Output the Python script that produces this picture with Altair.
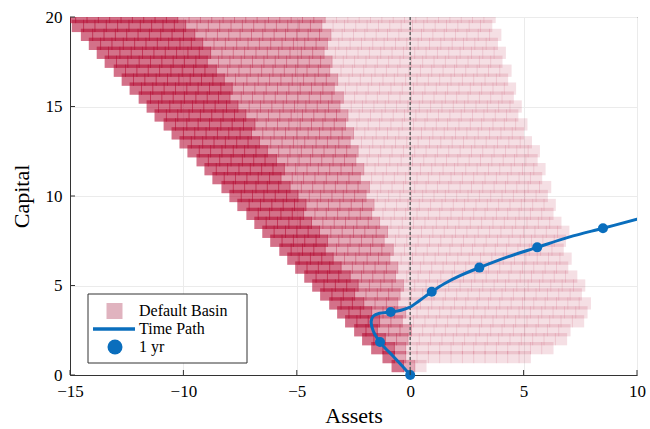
import altair as alt
import pandas as pd

# ---- Default basin grid (row capital levels, left edge and right edges per layer) ----
rows_capital = [0.5, 1.0, 1.5, 2.0, 2.5, 3.0, 3.5, 4.0, 4.5, 5.0,
                5.5, 6.0, 6.5, 7.0, 7.5, 8.0, 8.5, 9.0, 9.5, 10.0,
                10.5, 11.0, 11.5, 12.0, 12.5, 13.0, 13.5, 14.0, 14.5, 15.0,
                15.5, 16.0, 16.5, 17.0, 17.5, 18.0, 18.5, 19.0, 19.5, 20.0]
left_assets = [-0.55, -0.95, -1.45, -1.85, -2.2, -2.6, -2.95, -3.3, -3.7, -4.05,
               -4.4, -4.8, -5.15, -5.5, -5.9, -6.25, -6.6, -6.95, -7.35, -7.7,
               -8.05, -8.45, -8.8, -9.15, -9.55, -9.9, -10.25, -10.6, -11.0, -11.35,
               -11.7, -12.1, -12.45, -12.8, -13.2, -13.55, -13.9, -14.25, -14.65, -15.0]
dark_right = [-0.3, -0.55, -0.8, -1.05, -1.3, -1.55, -1.8, -2.05, -2.3, -2.55,
              -2.8, -3.05, -3.3, -3.55, -3.8, -4.05, -4.3, -4.55, -4.8, -5.05,
              -5.3, -5.55, -5.8, -6.05, -6.3, -6.55, -6.8, -7.05, -7.3, -7.55,
              -7.8, -8.05, -8.3, -8.55, -8.8, -9.05, -9.3, -9.55, -9.8, -10.05]
mid_right = [0.1, 0.0, -0.05, -0.1, -0.15, -0.25, -0.3, -0.35, -0.4, -0.5,
             -0.6, -0.75, -0.9, -1.0, -1.1, -1.25, -1.4, -1.5, -1.65, -1.8,
             -1.95, -2.1, -2.2, -2.35, -2.45, -2.6, -2.7, -2.85, -2.95, -3.1,
             -3.15, -3.25, -3.35, -3.4, -3.5, -3.6, -3.65, -3.75, -3.8, -3.9]
outer_right = [0.65, 5.2, 6.1, 6.8, 7.2, 7.45, 7.6, 7.7, 7.7, 7.5,
               7.3, 7.15, 7.05, 6.95, 6.85, 6.75, 6.6, 6.5, 6.4, 6.25,
               6.1, 5.95, 5.8, 5.6, 5.45, 5.3, 5.15, 5.0, 4.85, 4.7,
               4.6, 4.45, 4.35, 4.25, 4.15, 4.0, 3.9, 3.75, 3.6, 3.5]
grid_step = 0.5

# ---- Time path ----
path_assets = [0.0, -0.35, -0.75, -1.1, -1.33, -1.55, -1.68, -1.72, -1.62, -1.35,
               -0.86, -0.4, 0.0, 0.4, 0.95, 1.5, 2.2, 3.05, 4.3, 5.6,
               7.0, 8.5, 10.0, 10.6]
path_capital = [0.0, 0.5, 1.05, 1.5, 1.84, 2.25, 2.65, 3.0, 3.3, 3.45,
                3.52, 3.62, 3.8, 4.15, 4.65, 5.1, 5.55, 6.0, 6.6, 7.13,
                7.7, 8.2, 8.7, 8.9]
year_assets = [0.0, -1.33, -0.86, 0.95, 3.05, 5.6, 8.5]
year_capital = [0.0, 1.84, 3.52, 4.65, 6.0, 7.13, 8.2]

x_ticks = [-15, -10, -5, 0, 5, 10]
y_ticks = [0, 5, 10, 15, 20]
legend_labels = ["Default Basin", "Time Path", "1 yr"]

BASIN = "#b40a32"
BLUE = "#0a6ebd"
FONT = "Liberation Serif"

recs = []
for yv, lx, r1, r2, r4 in zip(rows_capital, left_assets, dark_right, mid_right, outer_right):
    k = 0
    while True:
        xv = round(lx + grid_step * k, 4)
        if xv > r4 + 1e-6:
            break
        depth = 1 + (xv <= r2 + 1e-6) + (xv <= r1 + 1e-6)
        recs.append({"assets": xv, "capital": yv, "depth": int(depth)})
        k += 1
basin = pd.DataFrame(recs)
path = pd.DataFrame({"assets": path_assets, "capital": path_capital,
                     "order": list(range(len(path_assets)))})
years = pd.DataFrame({"assets": year_assets, "capital": year_capital})

xs = alt.Scale(domain=[-15, 10], nice=False, zero=False)
ys = alt.Scale(domain=[0, 20], nice=False, zero=False)

xax = alt.Axis(values=x_ticks, title="Assets", grid=True, tickSize=0,
               labelFlush=False, labelPadding=8, titlePadding=6)
yax = alt.Axis(values=y_ticks, title="Capital", grid=True, tickSize=0,
               labelFlush=False, labelPadding=8, titlePadding=12)


def X(field):
    return alt.X(field, scale=xs, axis=xax, title="Assets")


def Y(field):
    return alt.Y(field, scale=ys, axis=yax, title="Capital")


base = alt.Chart(basin)
layers = []
for d, op in [(1, 0.13), (2, 0.25), (3, 0.35)]:
    layers.append(
        base.transform_filter(alt.datum.depth >= d)
        .mark_square(size=150, opacity=op, color=BASIN, strokeWidth=0, clip=True)
        .encode(x=X("assets:Q"), y=Y("capital:Q"))
    )

zero_line = alt.Chart(pd.DataFrame({"assets": [0.0]})).mark_rule(
    color="#666666", strokeDash=[3, 2], strokeWidth=1.5
).encode(x=X("assets:Q"))

line = alt.Chart(path).mark_line(
    color=BLUE, strokeWidth=3, interpolate="catmull-rom", clip=True
).encode(x=X("assets:Q"), y=Y("capital:Q"), order="order:Q")

dots = alt.Chart(years).mark_circle(color=BLUE, size=100, opacity=1).encode(
    x=X("assets:Q"), y=Y("capital:Q"))

xtick = alt.Chart(pd.DataFrame({"assets": x_ticks})).mark_rule(color="#333333", strokeWidth=1).encode(
    x=X("assets:Q"), y=alt.value(358), y2=alt.value(353))
ytick = alt.Chart(pd.DataFrame({"capital": y_ticks})).mark_rule(color="#333333", strokeWidth=1).encode(
    y=Y("capital:Q"), x=alt.value(0), x2=alt.value(5))

# legend
lg = alt.Chart(pd.DataFrame({"a": [0]}))
leg_box = lg.mark_rect(fill="white", stroke="#333333", strokeWidth=1).encode(
    x=alt.value(18), x2=alt.value(177), y=alt.value(277), y2=alt.value(346))
leg_sq = lg.mark_square(color="#e0b3bf", size=256, opacity=1).encode(
    x=alt.value(44.5), y=alt.value(294))
leg_ln = lg.mark_rule(color=BLUE, strokeWidth=3.5).encode(
    x=alt.value(23), x2=alt.value(65), y=alt.value(312))
leg_pt = lg.mark_circle(color=BLUE, size=225, opacity=1).encode(
    x=alt.value(45), y=alt.value(330))
leg_txt = []
for lab, yy in zip(legend_labels, [294, 312, 330]):
    leg_txt.append(lg.mark_text(align="left", baseline="middle", font=FONT, fontSize=16,
                                color="black").encode(
        x=alt.value(69), y=alt.value(yy), text=alt.value(lab)))

chart = alt.layer(*layers, zero_line, line, dots, xtick, ytick,
                  leg_box, leg_sq, leg_ln, leg_pt, *leg_txt).properties(
    width=567, height=358,
    autosize=alt.AutoSizeParams(type="none"),
    padding={"left": 70, "top": 17, "right": 13, "bottom": 54},
).configure_view(stroke="#333333", strokeWidth=1).configure_axis(
    labelFont=FONT, titleFont=FONT, labelFontSize=17, titleFontSize=22,
    labelColor="black", titleColor="black", titleFontWeight="normal",
    gridColor="#ebebeb", gridWidth=1, domainColor="#333333", domainWidth=1,
)

chart.save("out.html", embed_options={"renderer": "svg", "actions": False})
